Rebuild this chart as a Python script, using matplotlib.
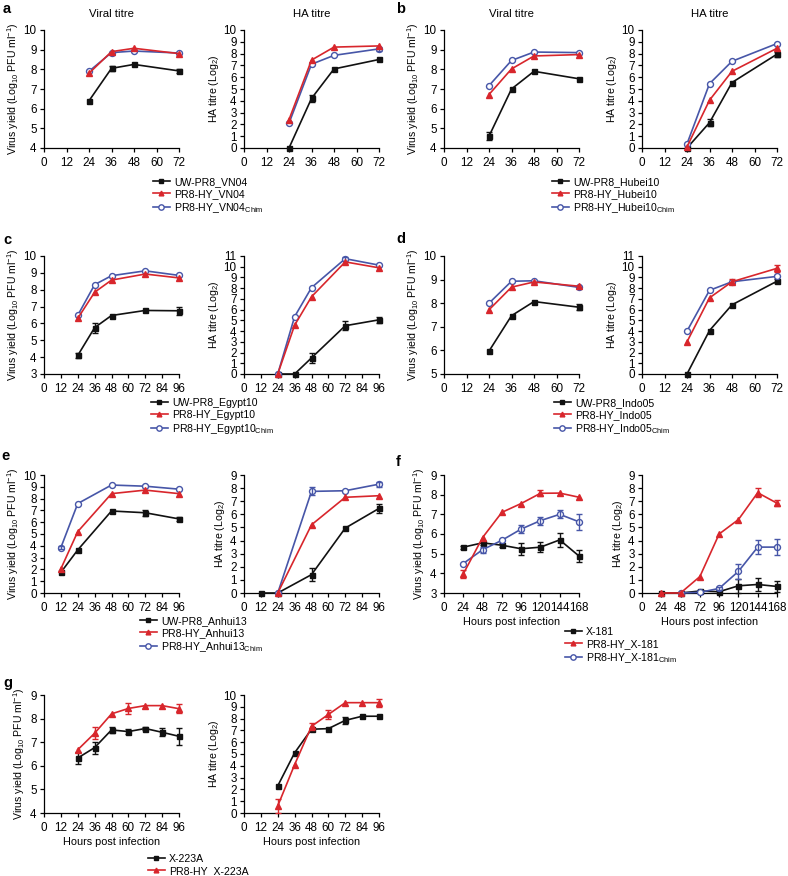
import numpy as np
import matplotlib
matplotlib.use('Agg')
import matplotlib.pyplot as plt
from matplotlib.lines import Line2D

plt.rcParams['font.family'] = ['Liberation Sans', 'DejaVu Sans']
plt.rcParams['mathtext.fontset'] = 'custom'
plt.rcParams['mathtext.rm'] = 'Liberation Sans'
plt.rcParams['mathtext.it'] = 'Liberation Sans:italic'
plt.rcParams['mathtext.bf'] = 'Liberation Sans:bold'

nan = np.nan

# ---------------- data ----------------
# panel a (VN04)
a_hours = [24, 36, 48, 72]
a_vir_uw = [6.4, 8.05, 8.25, 7.92]
a_vir_uw_err = [0, 0.12, 0, 0.1]
a_vir_hy = [7.8, 8.9, 9.07, 8.8]
a_vir_hy_err = [0, 0, 0, 0]
a_vir_chim = [7.9, 8.85, 8.93, 8.83]
a_vir_chim_err = [0, 0, 0, 0]
a_ha_uw = [0, 4.2, 6.7, 7.5]
a_ha_uw_err = [0, 0.3, 0, 0]
a_ha_hy = [2.4, 7.45, 8.55, 8.65]
a_ha_hy_err = [0, 0, 0, 0]
a_ha_chim = [2.1, 7.1, 7.85, 8.4]
a_ha_chim_err = [0, 0, 0, 0.2]
a_labels = ['UW-PR8_VN04', 'PR8-HY_VN04', 'PR8-HY_VN04$_{\\rm Chim}$']

# panel b (Hubei10)
b_hours = [24, 36, 48, 72]
b_vir_uw = [4.6, 7.0, 7.9, 7.52]
b_vir_uw_err = [0.2, 0, 0, 0]
b_vir_hy = [6.72, 8.02, 8.68, 8.75]
b_vir_hy_err = [0, 0, 0, 0]
b_vir_chim = [7.17, 8.45, 8.88, 8.85]
b_vir_chim_err = [0, 0, 0, 0]
b_ha_uw = [0, 2.15, 5.55, 7.95]
b_ha_uw_err = [0, 0.3, 0, 0.2]
b_ha_hy = [0.1, 4.05, 6.5, 8.45]
b_ha_hy_err = [0, 0, 0, 0]
b_ha_chim = [0.35, 5.45, 7.35, 8.85]
b_ha_chim_err = [0, 0, 0, 0]
b_labels = ['UW-PR8_Hubei10', 'PR8-HY_Hubei10', 'PR8-HY_Hubei10$_{\\rm Chim}$']

# panel c (Egypt10)
c_hours = [24, 36, 48, 72, 96]
c_vir_uw = [4.1, 5.75, 6.47, 6.77, 6.75]
c_vir_uw_err = [0.15, 0.3, 0, 0, 0.25]
c_vir_hy = [6.3, 7.85, 8.57, 8.93, 8.7]
c_vir_hy_err = [0, 0, 0, 0, 0]
c_vir_chim = [6.48, 8.3, 8.83, 9.12, 8.85]
c_vir_chim_err = [0, 0, 0, 0, 0]
c_ha_uw = [0, 0, 1.5, 4.5, 5.05]
c_ha_uw_err = [0, 0, 0.5, 0.4, 0.25]
c_ha_hy = [0, 4.55, 7.2, 10.45, 9.9]
c_ha_hy_err = [0, 0, 0, 0, 0]
c_ha_chim = [0, 5.35, 8.05, 10.75, 10.15]
c_ha_chim_err = [0, 0, 0, 0.2, 0]
c_labels = ['UW-PR8_Egypt10', 'PR8-HY_Egypt10', 'PR8-HY_Egypt10$_{\\rm Chim}$']

# panel d (Indo05)
d_hours = [24, 36, 48, 72]
d_vir_uw = [5.97, 7.47, 8.07, 7.83]
d_vir_uw_err = [0, 0, 0, 0.12]
d_vir_hy = [7.72, 8.68, 8.9, 8.72]
d_vir_hy_err = [0, 0, 0, 0]
d_vir_chim = [8.0, 8.93, 8.95, 8.67]
d_vir_chim_err = [0, 0, 0, 0]
d_ha_uw = [0, 4.05, 6.45, 8.65]
d_ha_uw_err = [0, 0, 0, 0.2]
d_ha_hy = [3.0, 7.1, 8.6, 9.85]
d_ha_hy_err = [0, 0, 0.25, 0.3]
d_ha_chim = [4.0, 7.8, 8.6, 9.1]
d_ha_chim_err = [0, 0, 0, 0]
d_labels = ['UW-PR8_Indo05', 'PR8-HY_Indo05', 'PR8-HY_Indo05$_{\\rm Chim}$']

# panel e (Anhui13)
e_hours = [12, 24, 48, 72, 96]
e_vir_uw = [1.75, 3.65, 6.95, 6.8, 6.28]
e_vir_uw_err = [0, 0, 0, 0.25, 0.2]
e_vir_hy = [2.05, 5.2, 8.42, 8.72, 8.42]
e_vir_hy_err = [0, 0, 0, 0, 0]
e_vir_chim = [3.85, 7.58, 9.15, 9.05, 8.8]
e_vir_chim_err = [0.15, 0, 0, 0, 0]
e_ha_uw = [0, 0, 1.4, 4.95, 6.45]
e_ha_uw_err = [0, 0, 0.5, 0, 0.35]
e_ha_hy = [nan, 0, 5.2, 7.3, 7.42]
e_ha_hy_err = [0, 0, 0, 0, 0]
e_ha_chim = [nan, 0, 7.75, 7.8, 8.3]
e_ha_chim_err = [0, 0, 0.3, 0, 0.2]
e_labels = ['UW-PR8_Anhui13', 'PR8-HY_Anhui13', 'PR8-HY_Anhui13$_{\\rm Chim}$']

# panel f (X-181)
f_hours = [24, 48, 72, 96, 120, 144, 168]
f_vir_uw = [5.33, 5.55, 5.43, 5.25, 5.33, 5.7, 4.88]
f_vir_uw_err = [0.08, 0.1, 0.1, 0.3, 0.25, 0.35, 0.3]
f_vir_hy = [3.97, 5.82, 7.1, 7.55, 8.07, 8.08, 7.87]
f_vir_hy_err = [0.2, 0, 0, 0, 0.15, 0, 0]
f_vir_chim = [4.5, 5.2, 5.68, 6.25, 6.68, 7.0, 6.62]
f_vir_chim_err = [0, 0.15, 0, 0.2, 0.2, 0.2, 0.4]
f_ha_uw = [0, 0, 0.15, 0.1, 0.55, 0.65, 0.5]
f_ha_uw_err = [0, 0, 0.1, 0.1, 0.55, 0.5, 0.4]
f_ha_hy = [0, 0, 1.25, 4.5, 5.6, 7.65, 6.85]
f_ha_hy_err = [0, 0, 0, 0, 0, 0.35, 0.25]
f_ha_chim = [nan, 0, 0.05, 0.35, 1.65, 3.5, 3.5]
f_ha_chim_err = [0, 0, 0, 0.1, 0.55, 0.55, 0.6]
f_labels = ['X-181', 'PR8-HY_X-181', 'PR8-HY_X-181$_{\\rm Chim}$']

# panel g (X-223A)
g_hours = [24, 36, 48, 60, 72, 84, 96]
g_vir_uw = [6.33, 6.77, 7.52, 7.45, 7.58, 7.42, 7.25]
g_vir_uw_err = [0.25, 0.25, 0.12, 0.12, 0.08, 0.17, 0.35]
g_vir_hy = [6.68, 7.38, 8.2, 8.43, 8.55, 8.55, 8.42]
g_vir_hy_err = [0, 0.25, 0, 0.25, 0, 0, 0.2]
g_ha_uw = [2.3, 5.1, 7.1, 7.15, 7.85, 8.2, 8.2]
g_ha_uw_err = [0, 0, 0, 0, 0.3, 0, 0]
g_ha_hy = [0.6, 4.1, 7.35, 8.35, 9.35, 9.35, 9.35]
g_ha_hy_err = [0.6, 0, 0.3, 0.35, 0, 0, 0.35]
g_labels = ['X-223A', 'PR8-HY_X-223A']

# ---------------- styling ----------------
W, H = 788, 876
BLACK = '#111111'
RED = '#d8262c'
BLUE = '#4756a8'
styles = [
    dict(color=BLACK, marker='s', ms=3.6, mfc=BLACK, mec=BLACK, zorder=3),
    dict(color=RED, marker='^', ms=3.8, mfc=RED, mec=RED, zorder=5),
    dict(color=BLUE, marker='o', ms=4.3, mfc='white', mec=BLUE, mew=1.0, zorder=4),
]

fig = plt.figure(figsize=(W / 100, H / 100), dpi=100)

AW, AH = 135, 118


def make_ax(left, top):
    return fig.add_axes([left / W, 1 - (top + AH) / H, AW / W, AH / H])


def draw(ax, hours, series, xticks, yticks, ylabel, xlabel=None, title=None):
    x = np.array(hours, dtype=float)
    for (vals, errs), st in zip(series, styles):
        y = np.array(vals, dtype=float)
        e = np.array(errs, dtype=float)
        ax.plot(x, y, lw=1.2, clip_on=False, **st)
        m = (e > 0) & ~np.isnan(y)
        if m.any():
            ax.errorbar(x[m], y[m], yerr=e[m], fmt='none', ecolor=st['color'],
                        elinewidth=1.0, capsize=2.4, capthick=1.0,
                        zorder=st['zorder'], clip_on=False)
    ax.set_xlim(xticks[0], xticks[-1])
    ax.set_ylim(yticks[0], yticks[-1])
    ax.set_xticks(xticks)
    ax.set_yticks(yticks)
    for s in ['top', 'right']:
        ax.spines[s].set_visible(False)
    for s in ['left', 'bottom']:
        ax.spines[s].set_linewidth(0.9)
    ax.tick_params(direction='out', length=2.8, width=0.9, labelsize=8.4)
    ax.tick_params(axis='x', pad=3.8)
    ax.tick_params(axis='y', pad=2.5)
    ax.set_ylabel(ylabel, fontsize=7.6, labelpad=2)
    if xlabel:
        ax.set_xlabel(xlabel, fontsize=7.8, labelpad=2)
    if title:
        ax.set_title(title, fontsize=8.2, pad=9)


VY = 'Virus yield (Log$_{10}$ PFU ml$^{-1}$)'
HA = 'HA titre (Log$_2$)'
HPI = 'Hours post infection'

cols_left = [44, 244]
cols_right = [444, 642]
rows = [30, 256, 475, 695]

# a
ax = make_ax(cols_left[0], rows[0])
draw(ax, a_hours, [(a_vir_uw, a_vir_uw_err), (a_vir_hy, a_vir_hy_err), (a_vir_chim, a_vir_chim_err)],
     list(range(0, 73, 12)), list(range(4, 11)), VY, title='Viral titre')
ax = make_ax(cols_left[1], rows[0])
draw(ax, a_hours, [(a_ha_uw, a_ha_uw_err), (a_ha_hy, a_ha_hy_err), (a_ha_chim, a_ha_chim_err)],
     list(range(0, 73, 12)), list(range(0, 11)), HA, title='HA titre')
# b
ax = make_ax(cols_right[0], rows[0])
draw(ax, b_hours, [(b_vir_uw, b_vir_uw_err), (b_vir_hy, b_vir_hy_err), (b_vir_chim, b_vir_chim_err)],
     list(range(0, 73, 12)), list(range(4, 11)), VY, title='Viral titre')
ax = make_ax(cols_right[1], rows[0])
draw(ax, b_hours, [(b_ha_uw, b_ha_uw_err), (b_ha_hy, b_ha_hy_err), (b_ha_chim, b_ha_chim_err)],
     list(range(0, 73, 12)), list(range(0, 11)), HA, title='HA titre')
# c
ax = make_ax(cols_left[0], rows[1])
draw(ax, c_hours, [(c_vir_uw, c_vir_uw_err), (c_vir_hy, c_vir_hy_err), (c_vir_chim, c_vir_chim_err)],
     list(range(0, 97, 12)), list(range(3, 11)), VY)
ax = make_ax(cols_left[1], rows[1])
draw(ax, c_hours, [(c_ha_uw, c_ha_uw_err), (c_ha_hy, c_ha_hy_err), (c_ha_chim, c_ha_chim_err)],
     list(range(0, 97, 12)), list(range(0, 12)), HA)
# d
ax = make_ax(cols_right[0], rows[1])
draw(ax, d_hours, [(d_vir_uw, d_vir_uw_err), (d_vir_hy, d_vir_hy_err), (d_vir_chim, d_vir_chim_err)],
     list(range(0, 73, 12)), list(range(5, 11)), VY)
ax = make_ax(cols_right[1], rows[1])
draw(ax, d_hours, [(d_ha_uw, d_ha_uw_err), (d_ha_hy, d_ha_hy_err), (d_ha_chim, d_ha_chim_err)],
     list(range(0, 73, 12)), list(range(0, 12)), HA)
# e
ax = make_ax(cols_left[0], rows[2])
draw(ax, e_hours, [(e_vir_uw, e_vir_uw_err), (e_vir_hy, e_vir_hy_err), (e_vir_chim, e_vir_chim_err)],
     list(range(0, 97, 12)), list(range(0, 11)), VY)
ax = make_ax(cols_left[1], rows[2])
draw(ax, e_hours, [(e_ha_uw, e_ha_uw_err), (e_ha_hy, e_ha_hy_err), (e_ha_chim, e_ha_chim_err)],
     list(range(0, 97, 12)), list(range(0, 10)), HA)
# f
ax = make_ax(cols_right[0], rows[2])
draw(ax, f_hours, [(f_vir_uw, f_vir_uw_err), (f_vir_hy, f_vir_hy_err), (f_vir_chim, f_vir_chim_err)],
     list(range(0, 169, 24)), list(range(3, 10)), VY, xlabel=HPI)
ax = make_ax(cols_right[1], rows[2])
draw(ax, f_hours, [(f_ha_uw, f_ha_uw_err), (f_ha_hy, f_ha_hy_err), (f_ha_chim, f_ha_chim_err)],
     list(range(0, 169, 24)), list(range(0, 10)), HA, xlabel=HPI)
# g
ax = make_ax(cols_left[0], rows[3])
draw(ax, g_hours, [(g_vir_uw, g_vir_uw_err), (g_vir_hy, g_vir_hy_err)],
     list(range(0, 97, 12)), list(range(4, 10)), VY, xlabel=HPI)
ax = make_ax(cols_left[1], rows[3])
draw(ax, g_hours, [(g_ha_uw, g_ha_uw_err), (g_ha_hy, g_ha_hy_err)],
     list(range(0, 97, 12)), list(range(0, 11)), HA, xlabel=HPI)

# legends
def legend(labels, x, y):
    handles = []
    for lab, st in zip(labels, styles):
        kw = {k: v for k, v in st.items() if k != 'zorder'}
        handles.append(Line2D([], [], lw=1.2, **kw))
    fig.legend(handles, labels, loc='upper left', bbox_to_anchor=(x / W, 1 - y / H),
               frameon=False, fontsize=7.6, handlelength=1.6, handletextpad=0.4,
               labelspacing=0.18, borderpad=0, borderaxespad=0, markerscale=0.9)

legend(a_labels, 153, 177)
legend(b_labels, 552, 177)
legend(c_labels, 151, 398)
legend(d_labels, 554, 398)
legend(e_labels, 140, 616)
legend(f_labels, 565, 627)
legend(g_labels, 148, 854)

# panel letters
for letter, x, y in [('a', 3, 2), ('b', 396, 2), ('c', 3, 233), ('d', 396, 232),
                     ('e', 1, 449), ('f', 396, 455), ('g', 3, 676)]:
    fig.text(x / W, 1 - y / H, letter, fontsize=10.5, fontweight='bold', va='top', ha='left')

fig.savefig('out.png', dpi=100)
